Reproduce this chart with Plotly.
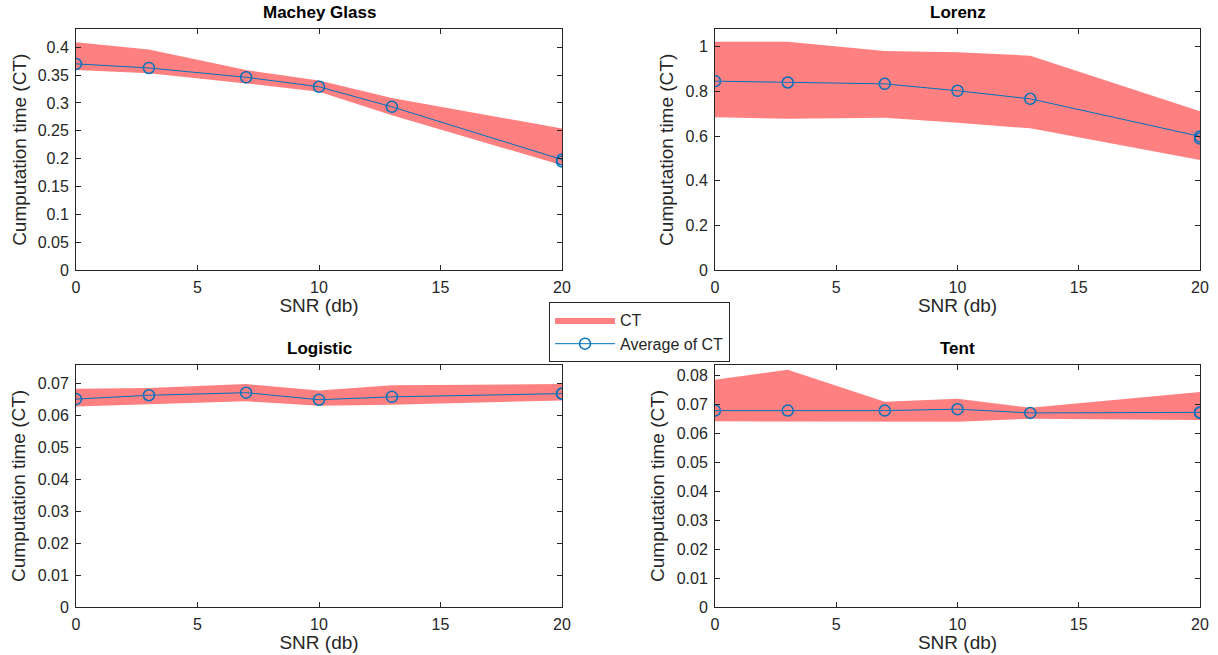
import plotly.graph_objects as go

snr = [0, 3, 7, 10, 13, 20, 20]

mg_upper = [0.409, 0.396, 0.359, 0.340, 0.309, 0.254, 0.254]
mg_lower = [0.359, 0.353, 0.335, 0.320, 0.278, 0.1885, 0.1885]
mg_mean = [0.370, 0.3627, 0.346, 0.329, 0.293, 0.1985, 0.195]

lz_upper = [1.022, 1.022, 0.981, 0.975, 0.960, 0.711, 0.711]
lz_lower = [0.685, 0.678, 0.682, 0.660, 0.635, 0.493, 0.493]
lz_mean = [0.846, 0.840, 0.834, 0.803, 0.767, 0.599, 0.589]

lg_upper = [0.0682, 0.0685, 0.0697, 0.0677, 0.0693, 0.0697, 0.0697]
lg_lower = [0.0627, 0.0634, 0.0643, 0.0629, 0.0632, 0.0646, 0.0646]
lg_mean = [0.0650, 0.0662, 0.0670, 0.0648, 0.0657, 0.0667, 0.0667]

tn_upper = [0.0784, 0.0819, 0.0709, 0.0719, 0.0688, 0.0742, 0.0742]
tn_lower = [0.0641, 0.0641, 0.0641, 0.0640, 0.0650, 0.0646, 0.0646]
tn_mean = [0.0678, 0.0678, 0.0678, 0.0683, 0.0670, 0.0672, 0.0670]

titles = ["Machey Glass", "Lorenz", "Logistic", "Tent"]
x_ticks = [0, 5, 10, 15, 20]
y_ticks = [
    [0, 0.05, 0.1, 0.15, 0.2, 0.25, 0.3, 0.35, 0.4],
    [0, 0.2, 0.4, 0.6, 0.8, 1],
    [0, 0.01, 0.02, 0.03, 0.04, 0.05, 0.06, 0.07],
    [0, 0.01, 0.02, 0.03, 0.04, 0.05, 0.06, 0.07, 0.08],
]
y_tick_text = [
    ["0", "0.05", "0.1", "0.15", "0.2", "0.25", "0.3", "0.35", "0.4"],
    ["0", "0.2", "0.4", "0.6", "0.8", "1"],
    ["0", "0.01", "0.02", "0.03", "0.04", "0.05", "0.06", "0.07"],
    ["0", "0.01", "0.02", "0.03", "0.04", "0.05", "0.06", "0.07", "0.08"],
]
y_max = [0.432, 1.078, 0.0758, 0.0837]

uppers = [mg_upper, lz_upper, lg_upper, tn_upper]
lowers = [mg_lower, lz_lower, lg_lower, tn_lower]
means = [mg_mean, lz_mean, lg_mean, tn_mean]

W, H = 1218, 655
x_dom = [[76 / W, 562 / W], [715 / W, 1200 / W]]
y_dom = [[1 - 270.3 / H, 1 - 29.3 / H], [1 - 607.3 / H, 1 - 364.5 / H]]

FILL = "rgb(255,128,128)"
BLUE = "#0072BD"
FONT = "Liberation Sans, Arial, Helvetica, sans-serif"
INK = "#262626"

fig = go.Figure()
layout = dict(
    width=W, height=H,
    margin=dict(l=0, r=0, t=0, b=0, autoexpand=False),
    paper_bgcolor="white", plot_bgcolor="white",
    font=dict(family=FONT, size=15, color=INK),
    showlegend=True,
    legend=dict(
        x=549 / W, y=1 - 302 / H, xanchor="left", yanchor="top",
        bordercolor=INK, borderwidth=1, bgcolor="white",
        font=dict(family=FONT, size=16, color=INK),
        itemwidth=60, tracegroupgap=0,
    ),
    annotations=[],
)

for i in range(4):
    r, c = divmod(i, 2)
    ax = "" if i == 0 else str(i + 1)
    xa, ya = "x" + ax, "y" + ax
    fig.add_trace(go.Scatter(
        x=snr + snr[::-1], y=uppers[i] + lowers[i][::-1],
        fill="toself", fillcolor=FILL, mode="lines",
        line=dict(width=0, color=FILL), name="CT",
        showlegend=(i == 0), legendgroup="ct", hoverinfo="skip",
        xaxis=xa, yaxis=ya,
    ))
    fig.add_trace(go.Scatter(
        x=snr, y=means[i], mode="lines+markers",
        line=dict(color=BLUE, width=1),
        marker=dict(symbol="circle-open", size=11, color=BLUE, line=dict(width=1.5, color=BLUE)),
        name="Average of CT", showlegend=(i == 0), legendgroup="avg",
        xaxis=xa, yaxis=ya,
    ))
    axis_common = dict(
        showline=True, linecolor=INK, linewidth=1, mirror="ticks",
        ticks="inside", ticklen=5, tickcolor=INK, showgrid=False,
        zeroline=False, automargin=False,
        tickfont=dict(family=FONT, size=16, color=INK),
    )
    layout["xaxis" + ax] = dict(
        axis_common, domain=x_dom[c], range=[0, 20], tickvals=x_ticks,
        anchor=ya, ticklabelstandoff=2,
        title=dict(text="SNR (db)", font=dict(family=FONT, size=19, color=INK), standoff=0),
    )
    layout["yaxis" + ax] = dict(
        axis_common, domain=y_dom[r], range=[0, y_max[i]],
        tickvals=y_ticks[i], ticktext=y_tick_text[i], anchor=xa,
        ticklabelstandoff=3,
        title=dict(text="Cumputation time (CT)", font=dict(family=FONT, size=19, color=INK), standoff=6),
    )
    layout["annotations"].append(dict(
        text="<b>" + titles[i] + "</b>", x=sum(x_dom[c]) / 2, y=y_dom[r][1],
        xref="paper", yref="paper", xanchor="center", yanchor="bottom",
        yshift=5, showarrow=False, font=dict(family=FONT, size=17, color="black"),
    ))

fig.update_layout(**layout)
fig.write_html("out.html", config={"displayModeBar": False})
